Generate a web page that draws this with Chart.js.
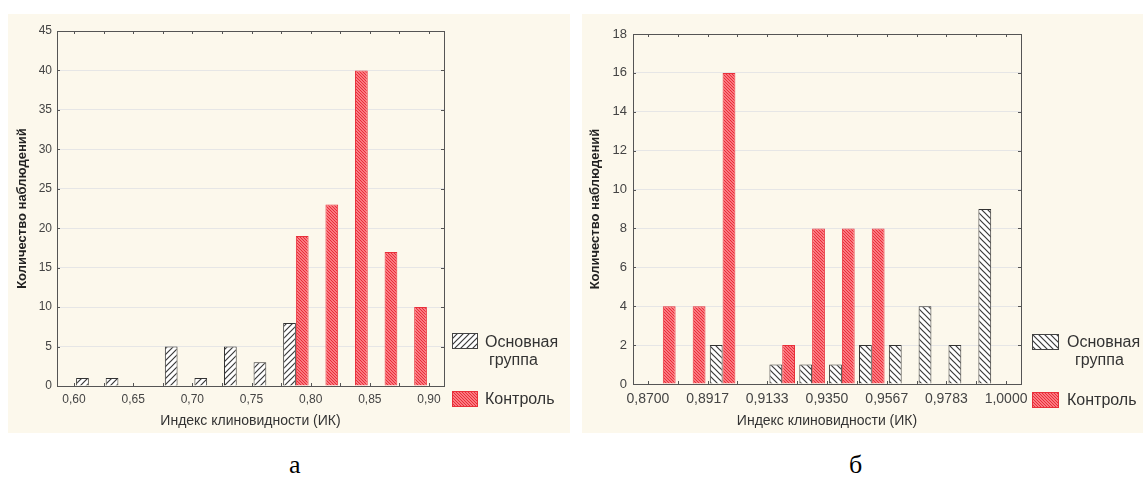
<!DOCTYPE html>
<html><head><meta charset="utf-8">
<script src="https://cdn.jsdelivr.net/npm/chart.js@4.4.1/dist/chart.umd.min.js"></script>
<style>
html,body{margin:0;padding:0;background:#fff;width:1143px;height:483px;overflow:hidden;font-family:"Liberation Sans",Arial,sans-serif;}
.panel{position:absolute;background:#fcf8ec;}
#pa{left:8px;top:14px;width:562px;height:419px;}
#pb{left:582px;top:14px;width:561px;height:419px;overflow:hidden;}
.panel canvas.c{position:absolute;left:0;top:0;}
.lt{position:absolute;font-size:16px;line-height:18px;color:#333;white-space:nowrap;}
.sw{position:absolute;}
.cap{position:absolute;font-family:"Liberation Serif","Times New Roman",serif;font-size:26px;color:#000;top:450px;}
</style></head><body>
<div class="panel" id="pa">
  <canvas class="c" id="ca" width="562" height="419"></canvas>
  <canvas class="sw" id="swA1" width="26" height="16" style="left:444px;top:319px"></canvas>
  <div class="lt" style="left:477px;top:319px">Основная</div>
  <div class="lt" style="left:481px;top:337px">группа</div>
  <canvas class="sw" id="swA2" width="26" height="16" style="left:444px;top:377px"></canvas>
  <div class="lt" style="left:477px;top:376px">Контроль</div>
</div>
<div class="panel" id="pb">
  <canvas class="c" id="cb" width="561" height="419"></canvas>
  <canvas class="sw" id="swB1" width="27" height="16" style="left:450px;top:320px"></canvas>
  <div class="lt" style="left:485px;top:319px">Основная</div>
  <div class="lt" style="left:493px;top:337px">группа</div>
  <canvas class="sw" id="swB2" width="27" height="16" style="left:450px;top:378px"></canvas>
  <div class="lt" style="left:485px;top:377px">Контроль</div>
</div>
<div class="cap" style="left:289px">а</div>
<div class="cap" style="left:849px">б</div>
<script>
// ---- data: panel а ----
const binEdgesA = [0.600, 0.625, 0.650, 0.675, 0.700, 0.725, 0.750, 0.775, 0.800, 0.825, 0.850, 0.875, 0.900];
const tickLabelsA = ['0,60', '0,65', '0,70', '0,75', '0,80', '0,85', '0,90'];
const mainA    = [1, 1, 0, 5, 1, 5, 3, 8, 0, 0, 0, 0];
const controlA = [0, 0, 0, 0, 0, 0, 0, 19, 23, 40, 17, 10];
// ---- data: panel б ----
const binEdgesB = [0.8700, 0.8808, 0.8917, 0.9025, 0.9133, 0.9242, 0.9350, 0.9458, 0.9567, 0.9675, 0.9783, 0.9892, 1.0000];
const tickLabelsB = ['0,8700', '0,8917', '0,9133', '0,9350', '0,9567', '0,9783', '1,0000'];
const mainB    = [0, 0, 2, 0, 1, 1, 1, 2, 2, 4, 2, 9];
const controlB = [4, 4, 16, 0, 2, 8, 8, 8, 0, 0, 0, 0];

const seriesNames = ['Основная группа', 'Контроль'];
const xTitle = 'Индекс клиновидности (ИК)';
const yTitle = 'Количество наблюдений';

function hatch(bg, fg, size, dir, lw) {
  const c = document.createElement('canvas'); c.width = c.height = size;
  const g = c.getContext('2d');
  g.fillStyle = bg; g.fillRect(0, 0, size, size);
  g.strokeStyle = fg; g.lineWidth = lw; g.beginPath();
  if (dir > 0) {
    g.moveTo(0, size); g.lineTo(size, 0);
    g.moveTo(-1, 1); g.lineTo(1, -1);
    g.moveTo(size - 1, size + 1); g.lineTo(size + 1, size - 1);
  } else {
    g.moveTo(0, 0); g.lineTo(size, size);
    g.moveTo(-1, size - 1); g.lineTo(1, size + 1);
    g.moveTo(size - 1, -1); g.lineTo(size + 1, 1);
  }
  g.stroke();
  return c;
}
function pat(ctx, c) { return ctx.createPattern(c, 'repeat'); }

const mainHatchA = hatch('#ffffff', '#3a3a3a', 6, 1, 1.2);
const mainHatchB = hatch('#ffffff', '#3a3a3a', 6, -1, 1.2);
const ctrlHatch  = hatch('#fa7a81', '#e82d38', 3, -1, 1);

function swatch(id, c, border) {
  const el = document.getElementById(id); const g = el.getContext('2d');
  g.fillStyle = pat(g, c); g.fillRect(0, 0, el.width, el.height);
  g.strokeStyle = border; g.lineWidth = 1; g.strokeRect(0.5, 0.5, el.width - 1, el.height - 1);
}
swatch('swA1', mainHatchA, '#444'); swatch('swA2', ctrlHatch, '#e8303a');
swatch('swB1', mainHatchB, '#444'); swatch('swB2', ctrlHatch, '#e8303a');

const frame = {
  id: 'frame',
  afterDraw(chart) {
    const {ctx, chartArea: {left, top, right, bottom}, scales: {x, y}} = chart;
    ctx.save();
    ctx.strokeStyle = '#555'; ctx.lineWidth = 1;
    ctx.beginPath();
    x.ticks.forEach(t => { const p = Math.round(x.getPixelForValue(t.value)) + 0.5;
      ctx.moveTo(p, bottom); ctx.lineTo(p, bottom - 3); ctx.moveTo(p, top); ctx.lineTo(p, top + 3); });
    y.ticks.forEach(t => { const p = Math.round(y.getPixelForValue(t.value)) + 0.5;
      ctx.moveTo(left, p); ctx.lineTo(left + 3, p); ctx.moveTo(right, p); ctx.lineTo(right - 3, p); });
    ctx.stroke();
    ctx.strokeRect(Math.round(left) + 0.5, Math.round(top) + 0.5, Math.round(right - left), Math.round(bottom - top));
    ctx.restore();
  }
};

function make(canvasId, edges, labels, main, ctrl, mainHatch, cfg) {
  const ctx = document.getElementById(canvasId).getContext('2d');
  const centers = edges.slice(0, -1).map((e, i) => (e + edges[i + 1]) / 2);
  return new Chart(ctx, {
    type: 'bar',
    data: {
      datasets: [
        { label: seriesNames[0], data: centers.map((c, i) => ({x: c, y: main[i]})),
          backgroundColor: pat(ctx, mainHatch), borderColor: '#333333', borderWidth: 1 },
        { label: seriesNames[1], data: centers.map((c, i) => ({x: c, y: ctrl[i]})),
          backgroundColor: pat(ctx, ctrlHatch), borderColor: '#e8303a', borderWidth: 1 }
      ]
    },
    options: {
      responsive: false, animation: false, devicePixelRatio: 1,
      categoryPercentage: 0.86, barPercentage: 1,
      layout: { padding: { left: 0, top: cfg.top, right: cfg.right, bottom: 0 } },
      plugins: { legend: { display: false }, tooltip: { enabled: false } },
      scales: {
        x: {
          type: 'linear', offset: false, min: cfg.xmin, max: cfg.xmax,
          grid: { display: false, drawTicks: false, offset: false },
          border: { display: false },
          afterBuildTicks: s => { s.ticks = edges.map(v => ({value: v})); },
          afterFit: s => { s.height = cfg.xh; },
          ticks: { autoSkip: false, maxRotation: 0, includeBounds: false, padding: cfg.xpad, color: '#444',
            font: { size: cfg.xfs, family: '"Liberation Sans", Arial' },
            callback: (v, i) => (i % 2 === 0 ? labels[i / 2] : '') },
          title: { display: true, text: xTitle, color: '#333', padding: { top: 0, bottom: 3 },
            font: { size: 14, family: '"Liberation Sans", Arial' } }
        },
        y: {
          min: 0, max: cfg.ymax,
          grid: { color: '#e6e6e6', drawTicks: false },
          border: { display: false },
          afterFit: s => { s.width = cfg.yw; },
          ticks: { stepSize: cfg.ystep, padding: cfg.ypad, color: '#444',
            font: { size: cfg.yfs, family: '"Liberation Sans", Arial' } },
          title: { display: true, text: yTitle, color: '#222', padding: { top: cfg.ytp, bottom: 0 },
            font: { size: 13, weight: 'bold', family: '"Liberation Sans", Arial' } }
        }
      }
    },
    plugins: [frame]
  });
}

make('ca', binEdgesA, tickLabelsA, mainA, controlA, mainHatchA,
  { top: 17, right: 126, xh: 47, yw: 49, xmin: 0.5856, xmax: 0.9127, ymax: 45, ystep: 5,
    xpad: 6, xfs: 12, ypad: 5, yfs: 12, ytp: 7 });
make('cb', binEdgesB, tickLabelsB, mainB, controlB, mainHatchB,
  { top: 20, right: 122, xh: 49, yw: 51, xmin: 0.86458, xmax: 1.00542, ymax: 18, ystep: 2,
    xpad: 7, xfs: 14, ypad: 6, yfs: 13, ytp: 6 });
</script>
</body></html>
